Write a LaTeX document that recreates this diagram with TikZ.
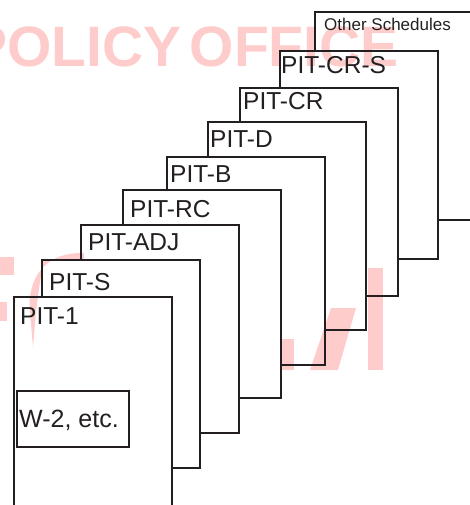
\documentclass[tikz,border=0pt]{standalone}
\usepackage{fontspec}
\setmainfont{Liberation Sans}
\newfontfamily\wmfont{Liberation Sans}[WordSpace=0.5]
\usetikzlibrary{calc}
\definecolor{ink}{RGB}{35,31,32}
\definecolor{wm}{RGB}{255,204,204}
\begin{document}
\begin{tikzpicture}[x=1pt,y=-1pt,
  page/.style={minimum width=158pt,minimum height=208pt,inner sep=0pt,draw=none},
  edge/.style={draw=ink,line width=2.4pt,line join=miter},
  lbl/.style={anchor=base west,inner sep=0pt,text=ink,font=\fontsize{24.5}{24.5}\selectfont},
  wmark/.style={fill=wm,draw=none}]
\useasboundingbox (0,0) rectangle (469,505);
% pages (front to back)
\node[page] (p1) at (93,401) {};
\node[page] (p2) at (121,364) {};
\node[page] (p3) at (160,329) {};
\node[page] (p4) at (202,294) {};
\node[page] (p5) at (246,261) {};
\node[page] (p6) at (287,226) {};
\node[page] (p7) at (319,192) {};
\node[page] (p8) at (359,155) {};
\node[page] (p9) at (394,116) {};
% watermark
\node[anchor=base west,inner sep=0pt,text=wm,font=\wmfont\bfseries\fontsize{57}{57}\selectfont] (wmk) at (-30.6,67) {POLICY OFFICE};
\fill[wmark] (0,257) rectangle (14,275);
\fill[wmark] (0,302) rectangle (7,321);
\fill[wmark] (84,253) .. controls (50,252) and (30,272) .. (29.5,305) -- (33,348)
   .. controls (35,320) and (38,290) .. (42,272) -- (42,260) -- (84,260) -- cycle;
\fill[wmark] (282,339) rectangle (294,370);
\fill[wmark] (310,370) -- (331,308) -- (356,308) -- (338,370) -- cycle;
\fill[wmark] (368,268) rectangle (383,370);
% visible outlines
\draw[edge] (p1.south west) -- (p1.north west) -- (p1.north east) -- (p1.south east);
\foreach \a/\b in {p2/p1,p3/p2,p4/p3,p5/p4,p6/p5,p7/p6,p8/p7,p9/p8}
  \draw[edge] (\a.west |- \b.north) -- (\a.north west) -- (\a.north east) -- (\a.south east) -- (\b.east |- \a.south);
% W-2 box
\node[draw=ink,line width=2.4pt,minimum width=112pt,minimum height=56pt,inner sep=0pt] (w2) at (73,419) {};
\node[lbl,font=\fontsize{25}{25}\selectfont] (w2t) at (19,427) {W-2, etc.};
% labels
\node[lbl] (l1) at (20,324) {PIT-1};
\node[lbl] (l2) at (49,290) {PIT-S};
\node[lbl] (l3) at (88,250) {PIT-ADJ};
\node[lbl] (l4) at (130,217) {PIT-RC};
\node[lbl] (l5) at (170,182) {PIT-B};
\node[lbl] (l6) at (210,147) {PIT-D};
\node[lbl] (l7) at (243,110) {PIT-CR};
\node[lbl] (l8) at (281,74) {PIT-CR-S};
\node[lbl,font=\fontsize{17}{17}\selectfont] (l9) at (324,31) {Other Schedules};
\end{tikzpicture}
\end{document}
